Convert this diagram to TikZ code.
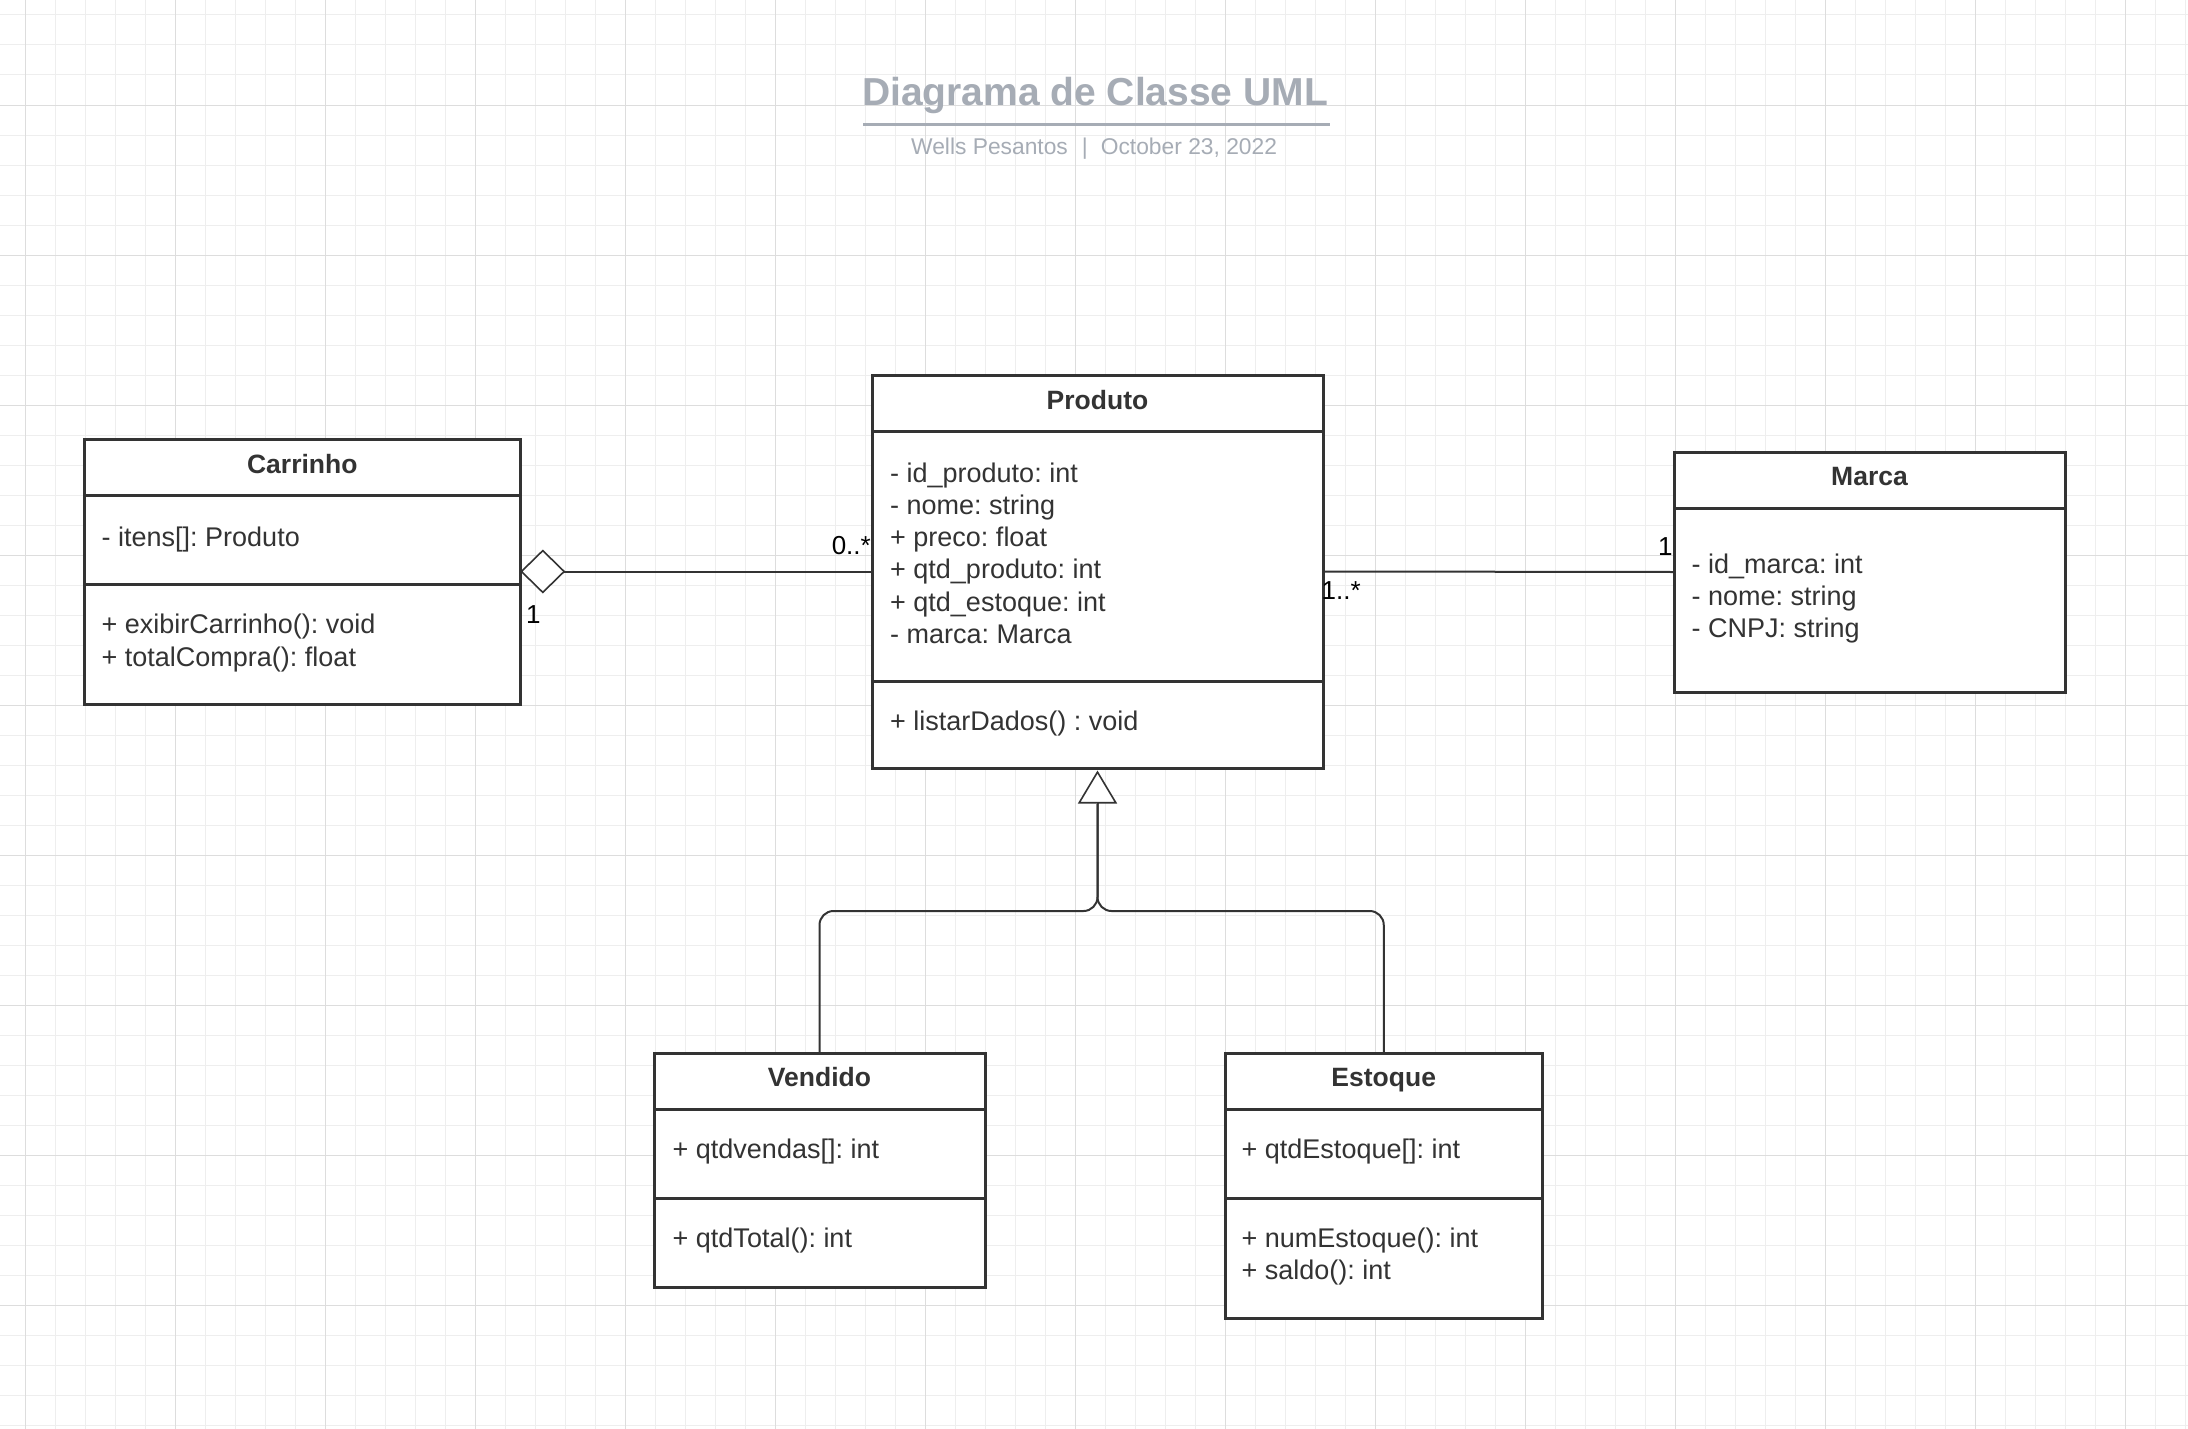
\documentclass[tikz,border=0pt]{standalone}
\usepackage{fontspec}
\setmainfont{Liberation Sans}
\usetikzlibrary{arrows.meta}
\definecolor{ink}{HTML}{333333}
\definecolor{gridminor}{HTML}{EEEEEE}
\definecolor{gridmajor}{HTML}{DDDDDD}
\definecolor{titlegrey}{HTML}{A6ACB5}
\frenchspacing
\begin{document}
\begin{tikzpicture}[x=1pt,y=-1pt,
  classbox/.style={draw=ink, line width=3pt, fill=white, outer sep=0pt, inner sep=0pt, anchor=north west},
  divider/.style={draw=ink, line width=3pt},
  hdr/.style={font=\fontsize{26.5}{32}\selectfont\bfseries, text=ink, anchor=base, inner sep=0pt},
  member/.style={font=\fontsize{27}{32}\selectfont, text=ink, anchor=base west, inner sep=0pt},
  mult/.style={font=\fontsize{26}{30}\selectfont, text=black, inner sep=0pt},
  conn/.style={draw=ink, line width=2pt},
  gminor/.style={draw=gridminor, line width=1pt},
  gmajor/.style={draw=gridmajor, line width=1pt},
]
\useasboundingbox (0,0) rectangle (2188,1429);
\fill[white] (0,0) rectangle (2188,1429);
% grid
\foreach \x in {25,55,...,2185} \draw[gminor] (\x,0) -- (\x,1429);
\foreach \y in {15,45,...,1425} \draw[gminor] (0,\y) -- (2188,\y);
\foreach \x in {25,175,...,2125} \draw[gmajor] (\x,0) -- (\x,1429);
\foreach \y in {105,255,...,1305} \draw[gmajor] (0,\y) -- (2188,\y);

% title
\node[font=\fontsize{39}{46}\selectfont\bfseries, text=titlegrey, anchor=base, inner sep=0pt] (title) at (1095,105.5) {Diagrama de Classe UML};
\draw[titlegrey, line width=3pt] (863,124.5) -- (1330,124.5);
\node[font=\fontsize{22.8}{27}\selectfont, text=titlegrey, anchor=base west, inner sep=0pt] (subtitle) at (911,154) {Wells Pesantos\hspace{14pt}|\hspace{13pt}October 23, 2022};

% Carrinho
\node[classbox, minimum width=436pt, minimum height=265pt] (carrinho) at (84.3,439) {};
\draw[divider] (84.3,495) -- (520.3,495);
\draw[divider] (84.3,584) -- (520.3,584);
\node[hdr] (carrinhoT) at (302.3,473) {Carrinho};
\node[member] (c1) at (101.5,546) {- itens[]: Produto};
\node[member] (c2) at (101.5,633) {+ exibirCarrinho(): void};
\node[member] (c3) at (101.5,666) {+ totalCompra(): float};

% Produto
\node[classbox, minimum width=451pt, minimum height=393pt] (produto) at (872,375) {};
\draw[divider] (872,431) -- (1323,431);
\draw[divider] (872,681) -- (1323,681);
\node[hdr] (produtoT) at (1097.5,409.5) {Produto};
\node[member] (p1) at (890,482) {- id\_produto: int};
\node[member] (p2) at (890,514.3) {- nome: string};
\node[member] (p3) at (890,546.6) {+ preco: float};
\node[member] (p4) at (890,578.9) {+ qtd\_produto: int};
\node[member] (p5) at (890,611.2) {+ qtd\_estoque: int};
\node[member] (p6) at (890,643.5) {- marca: Marca};
\node[member] (p7) at (890,730) {+ listarDados() : void};

% Marca
\node[classbox, minimum width=391pt, minimum height=240pt] (marca) at (1674,452) {};
\draw[divider] (1674,508) -- (2065,508);
\node[hdr] (marcaT) at (1869.5,485.5) {Marca};
\node[member] (ma1) at (1691.5,573) {- id\_marca: int};
\node[member] (ma2) at (1691.5,605.3) {- nome: string};
\node[member] (ma3) at (1691.5,637.6) {- CNPJ: string};

% Vendido
\node[classbox, minimum width=331pt, minimum height=234pt] (vendido) at (654,1053) {};
\draw[divider] (654,1109) -- (985,1109);
\draw[divider] (654,1198) -- (985,1198);
\node[hdr] (vendidoT) at (819.5,1086.5) {Vendido};
\node[member] (v1) at (672.5,1158) {+ qtdvendas[]: int};
\node[member] (v2) at (672.5,1247) {+ qtdTotal(): int};

% Estoque
\node[classbox, minimum width=317.5pt, minimum height=265pt] (estoque) at (1225,1053) {};
\draw[divider] (1225,1109) -- (1542.5,1109);
\draw[divider] (1225,1198) -- (1542.5,1198);
\node[hdr] (estoqueT) at (1383.75,1086.5) {Estoque};
\node[member] (e1) at (1241.5,1158) {+ qtdEstoque[]: int};
\node[member] (e2) at (1241.5,1247) {+ numEstoque(): int};
\node[member] (e3) at (1241.5,1279.3) {+ saldo(): int};

% aggregation Carrinho - Produto
\draw[conn, {Diamond[length=45pt, width=44pt, fill=white, line width=1.6pt]}-] (carrinho.east) -- (produto.west);
\node[mult, anchor=base east] (m1) at (871,554) {0..*};
\node[mult, anchor=base west] (m2) at (526,623) {1};

% association Produto - Marca
\draw[conn] (produto.east) -- (marca.west);
\node[mult, anchor=base west] (m3) at (1321.5,599) {1..*};
\node[mult, anchor=base west] (m4) at (1658,555) {1};

% generalization
\coordinate (junc) at (1097.5,911);
\coordinate (gbase) at (1097.5,804);
\coordinate (gtip) at (1097.5,770.5);
\draw[conn, rounded corners=14pt] (vendido.north) |- (junc) -- (gbase);
\draw[conn, rounded corners=14pt] (estoque.north) |- (junc) -- (gbase);
\draw[conn, -{Triangle[length=33pt, width=39pt, fill=white, line width=1.6pt]}] (gbase) -- (gtip);
\end{tikzpicture}
\end{document}
